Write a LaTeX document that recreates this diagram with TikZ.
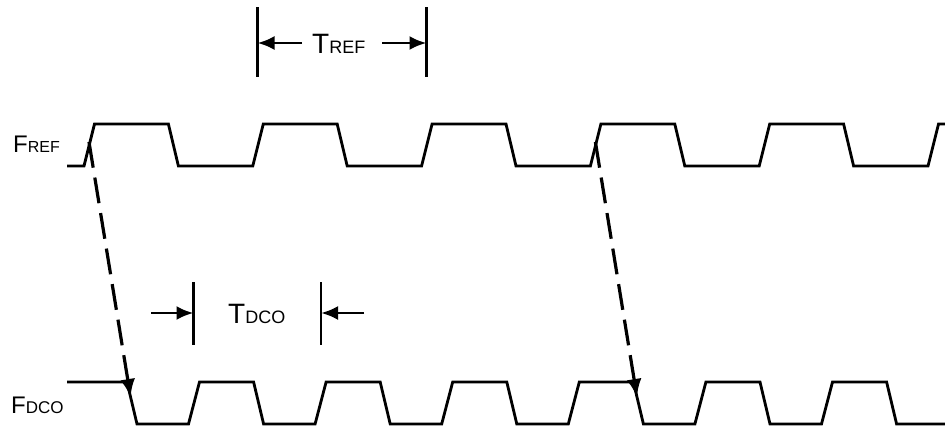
\documentclass[tikz,border=0pt]{standalone}
\usepackage{fontspec}
\setmainfont{Liberation Sans}
\usetikzlibrary{arrows.meta}
\newcommand\signame[4]{{\fontsize{#1}{#1}\selectfont #2}{\fontsize{#3}{#3}\selectfont #4}}

\begin{document}
\begin{tikzpicture}[x=1pt, y=-1pt,
  sig/.style={line width=2.8pt, line join=miter},
  bar/.style={line width=2.8pt},
  dim/.style={line width=2.8pt, -{Latex[length=17pt,width=14pt]}},
  sync/.style={line width=3.2pt, dash pattern=on 26pt off 10pt, -{Latex[length=18pt,width=15pt]}},
  lbl/.style={inner sep=0pt, anchor=base west}
]
  \useasboundingbox (0,0) rectangle (945,426);

  % clocks
  \begin{scope}
    \clip (0,0) rectangle (945,426);
    \draw[sig] (67,166) \foreach \k in {0,...,5} {
      -- ({84+168.8*\k},166) -- ({94.5+168.8*\k},124)
      -- ({168.4+168.8*\k},124) -- ({178.4+168.8*\k},166)};
    \draw[sig] (67,382) \foreach \k in {0,...,6} {
      -- ({127+126.6*\k},382) -- ({137+126.6*\k},424)
      -- ({188.5+126.6*\k},424) -- ({199.5+126.6*\k},382)};
  \end{scope}

  \node[lbl] (fref) at (13,152) {\signame{24}{F}{16}{REF}};
  \node[lbl] (fdco) at (11,413) {\signame{24}{F}{17}{DCO}};

  % T_REF
  \draw[bar] (257.5,7) -- (257.5,77);
  \draw[bar] (426.5,7) -- (426.5,77);
  \coordinate (trefL) at (257.5,43);
  \coordinate (trefR) at (426.5,43);
  \coordinate (trefLa) at (302,43);
  \coordinate (trefRa) at (382,43);
  \draw[dim] (trefLa) -- (trefL);
  \draw[dim] (trefRa) -- (trefR);
  \node[lbl] (tref) at (312,53) {\signame{28}{T}{18}{REF}};

  % T_DCO
  \draw[bar] (193.5,282) -- (193.5,345);
  \draw[bar] (321,282) -- (321,345);
  \coordinate (tdcoL) at (193.5,313);
  \coordinate (tdcoR) at (321,313);
  \coordinate (tdcoLa) at (151,313);
  \coordinate (tdcoRa) at (364,313);
  \draw[dim] (tdcoLa) -- (tdcoL);
  \draw[dim] (tdcoRa) -- (tdcoR);
  \node[lbl] (tdco) at (228,323) {\signame{28}{T}{18}{DCO}};

  % edge alignment
  \coordinate (ref1) at (89,142);
  \coordinate (dco1) at (130.6,397);
  \coordinate (ref2) at (595.4,142);
  \coordinate (dco2) at (637,397);
  \draw[sync] (ref1) -- (dco1);
  \draw[sync] (ref2) -- (dco2);
\end{tikzpicture}
\end{document}
